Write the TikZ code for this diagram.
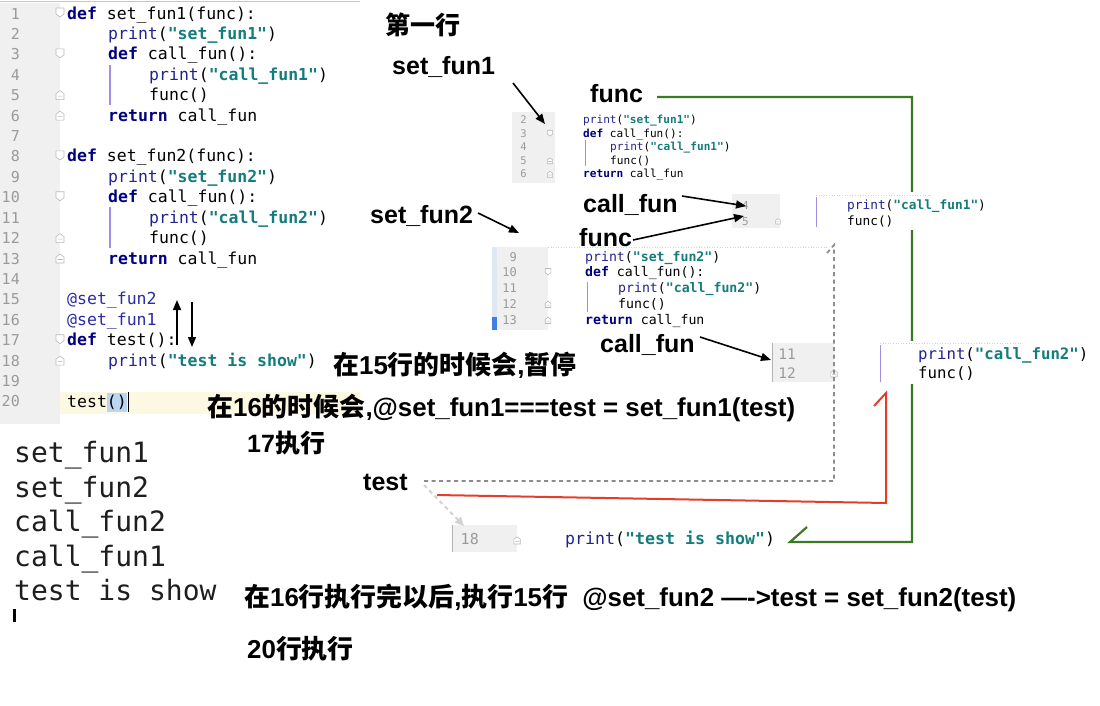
\documentclass[tikz,border=0pt]{standalone}
\usepackage{fontspec}
\setmainfont{Liberation Sans}
\newfontfamily\cjkf{Noto Sans CJK SC}
\newfontfamily\monof{DejaVu Sans Mono}
\usetikzlibrary{arrows.meta}
\definecolor{kwc}{HTML}{000080}
\definecolor{bic}{HTML}{23238E}
\definecolor{strc}{HTML}{147C7C}
\definecolor{decc}{HTML}{2B2BA8}
\definecolor{lnc}{HTML}{9A9A9A}
\definecolor{gutc}{HTML}{F0F0F0}
\definecolor{guide}{HTML}{A58BEA}
\definecolor{grn}{HTML}{3A7A24}
\definecolor{redl}{HTML}{E23E2B}
\definecolor{dgray}{HTML}{8C8C8C}
\definecolor{lgray}{HTML}{D2D2D2}
\definecolor{hly}{HTML}{FCF8E2}
\definecolor{hlb}{HTML}{BCD6F2}
\definecolor{outc}{HTML}{1E1E1E}
\definecolor{bluel}{HTML}{DFE7F2}
\definecolor{blued}{HTML}{3F7FE0}
\newcommand{\ckw}[1]{{\bfseries\color{kwc}#1}}
\newcommand{\cbi}[1]{{\color{bic}#1}}
\newcommand{\cstr}[1]{{\bfseries\color{strc}#1}}
\newcommand{\cdec}[1]{{\color{decc}#1}}
\newcommand{\zhb}[1]{{\cjkf #1}}
\newcommand{\foldstart}[3]{\draw[fold, shift={(#1,#2)}, scale=#3] (-4,-5) -- (4,-5) -- (4,1) -- (0,4) -- (-4,1) -- cycle;}
\newcommand{\foldend}[3]{\draw[fold, shift={(#1,#2)}, scale=#3] (-4,5) -- (4,5) -- (4,-1) -- (0,-4) -- (-4,-1) -- cycle (-2.5,1.5) -- (2.5,1.5);}
\tikzset{
  code/.style={anchor=base west, inner sep=0pt, font=\monof\fontsize{16.5}{20}\selectfont},
  lnum/.style={anchor=base east, inner sep=0pt, text=lnc, font=\monof\fontsize{15}{18}\selectfont},
  sc/.style={anchor=base west, inner sep=0pt, font=\monof\fontsize{#1}{#1}\selectfont},
  sn/.style={anchor=base east, inner sep=0pt, text=lnc, font=\monof\fontsize{#1}{#1}\selectfont},
  lab/.style={anchor=base west, inner sep=0pt, font=\bfseries\fontsize{25}{30}\selectfont},
  labz/.style={anchor=base west, inner sep=0pt, font=\bfseries\fontsize{25.9}{30}\selectfont},
  outt/.style={anchor=base west, inner sep=0pt, text=outc, font=\monof\fontsize{28}{34}\selectfont},
  arr/.style={line width=1.6pt, -{Triangle[length=10pt,width=8pt]}},
  fold/.style={fill=white, draw=gray!55, line width=0.6pt},
  guideline/.style={draw=guide, line width=1.1pt},
  topdots/.style={draw=gray!35, dotted, line width=0.6pt}
}
\begin{document}
\begin{tikzpicture}[x=1pt,y=-1pt]
\useasboundingbox (0,0) rectangle (1100,705);
\fill[white] (0,0) rectangle (1100,705);

% ---------- left code panel ----------
\fill[gutc] (0,3) rectangle (60,424);
\draw[gray!45, line width=0.8pt] (0,1.5) -- (360,1.5);
\fill[hly] (60,392) rectangle (360,414);
\fill[hlb] (107,393) rectangle (127,412);
\fill[black] (127.5,392) rectangle (129,412);
\draw[guideline] (110,65) -- (110,105);
\draw[guideline] (110,207) -- (110,248);
\foreach \n in {1,...,20} \node[lnum] (ln\n) at (20,{19+(\n-1)*20.42}) {\n};
\foreach \n in {1,3,8,10,17} \foldstart{60}{{13+(\n-1)*20.42}}{1};
\foreach \n in {5,6,12,13,18} \foldend{60}{{13+(\n-1)*20.42}}{1};

\node[code] (c1) at (67,19) {\ckw{def} set\_fun1(func):};
\node[code] (c2) at (108,39.4) {\cbi{print}(\cstr{"set\_fun1"})};
\node[code] (c3) at (108,59.8) {\ckw{def} call\_fun():};
\node[code] (c4) at (149,80.3) {\cbi{print}(\cstr{"call\_fun1"})};
\node[code] (c5) at (149,100.7) {func()};
\node[code] (c6) at (108,121.1) {\ckw{return} call\_fun};
\node[code] (c8) at (67,161.9) {\ckw{def} set\_fun2(func):};
\node[code] (c9) at (108,182.4) {\cbi{print}(\cstr{"set\_fun2"})};
\node[code] (c10) at (108,202.8) {\ckw{def} call\_fun():};
\node[code] (c11) at (149,223.2) {\cbi{print}(\cstr{"call\_fun2"})};
\node[code] (c12) at (149,243.6) {func()};
\node[code] (c13) at (108,264.0) {\ckw{return} call\_fun};
\node[code] (c15) at (67,304.9) {\cdec{@set\_fun2}};
\node[code] (c16) at (67,325.3) {\cdec{@set\_fun1}};
\node[code] (c17) at (67,345.7) {\ckw{def} test():};
\node[code] (c18) at (108,366.1) {\cbi{print}(\cstr{"test is show"})};
\node[code] (c20) at (67,407.0) {test()};

\coordinate (upA) at (177,345);
\coordinate (upB) at (177,300);
\coordinate (dnA) at (192,302);
\coordinate (dnB) at (192,347);
\draw[arr] (upA) -- (upB);
\draw[arr] (dnA) -- (dnB);

% ---------- output ----------
\node[outt] (o1) at (14,462) {set\_fun1};
\node[outt] (o2) at (14,497) {set\_fun2};
\node[outt] (o3) at (14,531) {call\_fun2};
\node[outt] (o4) at (14,566) {call\_fun1};
\node[outt] (o5) at (14,600) {test is show};
\fill[black] (13,609) rectangle (16,622);

% ---------- green line ----------
\coordinate (g0) at (657,97);
\coordinate (g1) at (912,542);
\coordinate (g2) at (790,542);
\coordinate (g3) at (807,527);
\draw[grn, line width=2.2pt] (g0) -| (g1) -- (g2) -- (g3);

% ---------- snippet 1 (lines 2-6) ----------
\fill[gutc] (512,112) rectangle (555,183);
\node[sn=10.5] at (527,123.7) {2};
\node[sn=10.5] at (527,137.2) {3};
\node[sn=10.5] at (527,150.7) {4};
\node[sn=10.5] at (527,164.2) {5};
\node[sn=10.5] at (527,177.7) {6};
\foldstart{550}{133.5}{0.65}
\foldend{550}{160.5}{0.65}
\foldend{550}{174}{0.65}
\draw[guide, line width=0.9pt] (585,140) -- (585,166);
\node[sc=11.1] (s1a) at (583,123.7) {\cbi{print}(\cstr{"set\_fun1"})};
\node[sc=11.1] (s1b) at (583,137.2) {\ckw{def} call\_fun():};
\node[sc=11.1] (s1c) at (610,150.7) {\cbi{print}(\cstr{"call\_fun1"})};
\node[sc=11.1] (s1d) at (610,164.2) {func()};
\node[sc=11.1] (s1e) at (583,177.7) {\ckw{return} call\_fun};

% ---------- snippet 2 (lines 4-5) ----------
\fill[white] (805,192) rectangle (935,230);
\fill[gutc] (732,194) rectangle (780,228);
\node[sn=11] at (749,209) {4};
\node[sn=11] at (749,225) {5};
\foldend{778}{221}{0.6}
\draw[topdots] (816,195.5) -- (932,195.5);
\draw[guide, line width=0.9pt] (816,197) -- (816,227);
\node[sc=12.8] (s2a) at (847,209) {\cbi{print}(\cstr{"call\_fun1"})};
\node[sc=12.8] (s2b) at (847,225) {func()};

% ---------- snippet 3 (lines 9-13) ----------
\fill[bluel] (492,247) rectangle (497,317);
\fill[blued] (492,317) rectangle (497,330);
\fill[gutc] (497,247) rectangle (548,330);
\node[sn=12] at (517,261.4) {9};
\node[sn=12] at (517,276.4) {10};
\node[sn=12] at (517,292.4) {11};
\node[sn=12] at (517,308.4) {12};
\node[sn=12] at (517,324.4) {13};
\foldstart{548}{272}{0.7}
\foldend{548}{304}{0.7}
\foldend{548}{320}{0.7}
\draw[topdots] (548,247) -- (828,247);
\draw[guide, line width=0.9pt] (587,282) -- (587,312);
\node[sc=13.2] (s3a) at (585,261.4) {\cbi{print}(\cstr{"set\_fun2"})};
\node[sc=13.2] (s3b) at (585,276.4) {\ckw{def} call\_fun():};
\node[sc=13.2] (s3c) at (618,292.4) {\cbi{print}(\cstr{"call\_fun2"})};
\node[sc=13.2] (s3d) at (618,308.4) {func()};
\node[sc=13.2] (s3e) at (585,324.4) {\ckw{return} call\_fun};

% ---------- snippet 4 (lines 11-12) ----------
\fill[white] (870,341) rectangle (1025,384);
\fill[gutc] (772,343) rectangle (834,382);
\draw[gray!60, line width=1pt] (772,343) -- (772,382);
\node[sn=14.5] at (796,359) {11};
\node[sn=14.5] at (796,378) {12};
\foldend{834}{373}{0.8}
\draw[topdots] (880,343) -- (1023,343);
\draw[guide, line width=1pt] (880,345) -- (880,382);
\node[sc=15.7] (s4a) at (918,359.2) {\cbi{print}(\cstr{"call\_fun2"})};
\node[sc=15.7] (s4b) at (918,378.2) {func()};

% ---------- snippet 5 (line 18) ----------
\fill[gutc] (452,525) rectangle (517,552);
\draw[gray!60, line width=1pt] (452,525) -- (452,552);
\node[sn=15] at (479,544.5) {18};
\foldend{517}{540}{0.8}
\node[sc=16.6] (s5a) at (565,544.5) {\cbi{print}(\cstr{"test is show"})};

% ---------- labels ----------
\node[lab] (t1) at (385,34) {\zhb{第一行}};
\node[lab] (lsf1) at (392,74) {set\_fun1};
\node[lab] (lfunc1) at (590,102) {func};
\node[lab] (lcf1) at (583,212) {call\_fun};
\node[lab] (lfunc2) at (579,246) {func};
\node[lab] (lsf2) at (370,223) {set\_fun2};
\node[lab] (lcf2) at (600,352) {call\_fun};
\node[labz] (n15) at (333,374) {\zhb{在}15\zhb{行的时候会},\zhb{暂停}};
\node[labz] (n16) at (207,416) {\zhb{在}16\zhb{的时候会},@set\_fun1===test = set\_fun1(test)};
\node[lab] (n17) at (247,452) {17\zhb{执行}};
\node[lab] (ltest) at (363,490) {test};
\node[labz] (nbot) at (244,606) {\zhb{在}16\zhb{行执行完以后},\zhb{执行}15\zhb{行}\ \ @set\_fun2 —->test = set\_fun2(test)};
\node[labz] (n20) at (247,658) {20\zhb{行执行}};

% ---------- gray dashed ----------
\coordinate (d0) at (424,481);
\coordinate (d1) at (834,245);
\coordinate (d2) at (827,253);
\draw[dgray, line width=1.8pt, dash pattern=on 4pt off 3.5pt] (d0) -| (d1) -- (d2);
\coordinate (e0) at (424,485);
\coordinate (e1) at (464,526);
\draw[lgray, line width=2pt, dash pattern=on 4pt off 3.5pt, -{Triangle[length=9pt,width=8pt]}] (e0) -- (e1);

% ---------- red ----------
\coordinate (r0) at (437,495);
\coordinate (r1) at (886,503);
\coordinate (r2) at (886,393);
\coordinate (r3) at (874,406);
\draw[redl, line width=2pt] (r0) -- (r1) -- (r2) -- (r3);

% ---------- black arrows ----------
\coordinate (a1s) at (513,83);
\coordinate (a1e) at (545,124);
\draw[arr] (a1s) -- (a1e);
\coordinate (a2s) at (682,196);
\coordinate (a2e) at (746,206);
\draw[arr] (a2s) -- (a2e);
\coordinate (a3s) at (633,240);
\coordinate (a3e) at (744,216);
\draw[arr] (a3s) -- (a3e);
\coordinate (a4s) at (478,213);
\coordinate (a4e) at (519,233);
\draw[arr] (a4s) -- (a4e);
\coordinate (a5s) at (700,337);
\coordinate (a5e) at (771,360);
\draw[arr] (a5s) -- (a5e);
\end{tikzpicture}
\end{document}
